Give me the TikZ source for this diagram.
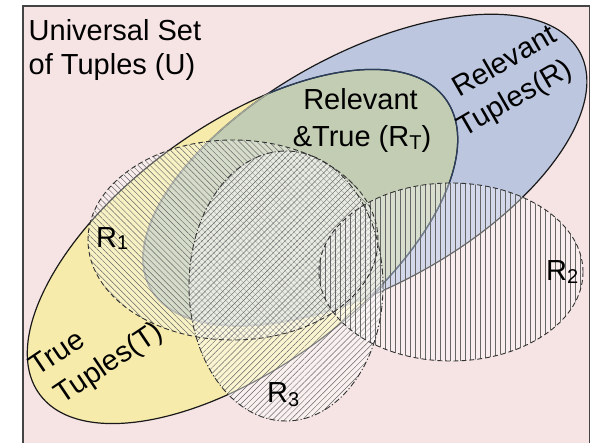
\documentclass[tikz,border=0pt]{standalone}
\usepackage{fontspec}
\setmainfont{Liberation Sans}
\usetikzlibrary{patterns.meta}
\definecolor{bgpink}{HTML}{F6E4E4}
\definecolor{yellowT}{HTML}{F6EBAA}
\definecolor{blueR}{HTML}{BCC6DF}
\definecolor{greenRT}{HTML}{C3CDB4}
\definecolor{navyline}{HTML}{2B3F5C}
\definecolor{hatchcol}{HTML}{666666}
\definecolor{framecol}{HTML}{444444}
\begin{document}
\begin{tikzpicture}[x=1pt,y=-1pt,
  Tpath/.style={rotate around={36:(cT)}, insert path={(cT) ellipse [x radius=251pt, y radius=121pt]}},
  Rpath/.style={rotate around={28.8:(cR)}, insert path={(cR) ellipse [x radius=245pt, y radius=116pt]}},
  Aone/.style={insert path={(c1) ellipse [x radius=145pt, y radius=100pt]}},
  Atwo/.style={insert path={(c2) ellipse [x radius=132pt, y radius=89pt]}},
  Athree/.style={insert path={(c3) ellipse [x radius=97pt, y radius=135pt]}},
  outline/.style={draw=black!90, line width=1.2pt},
  veil/.style={fill=white, fill opacity=#1},
  dashedge/.style={draw=black!80, line width=0.9pt, dash pattern=on 5pt off 3pt},
  dotedge/.style={draw=black!80, line width=0.9pt, dash pattern=on 6pt off 2.2pt on 1.2pt off 2.2pt},
  lbl/.style={inner sep=0pt, font=\fontsize{29}{35}\selectfont}]
\useasboundingbox (0,0) rectangle (591,443);
\clip (0,0) rectangle (591,443);
\coordinate (cT) at (242.5,246.5);
\coordinate (cR) at (365,170);
\coordinate (c1) at (233,240);
\coordinate (c2) at (451,272);
\coordinate (c3) at (286,286);
\fill[white] (0,0) rectangle (591,443);
\fill[bgpink] (23,6) rectangle (589.5,470);
% main sets
\fill[yellowT, Tpath];
\fill[blueR, Rpath];
\begin{scope}
  \clip[Tpath];
  \fill[greenRT, Rpath];
\end{scope}
\draw[outline, Tpath];
\draw[outline, Rpath];
\begin{scope}
  \clip[Rpath];
  \draw[navyline, line width=1.3pt, Tpath];
\end{scope}
\begin{scope}
  \clip[Tpath];
  \draw[line width=1.4pt, draw=greenRT!50!gray, Rpath];
\end{scope}
% labels under hatching
\node[lbl, anchor=base west, rotate=34] (t1) at (37.7,376.9) {True};
\node[lbl, anchor=base west, rotate=34] (t2) at (62.7,404.9) {Tuples(T)};
% result sets with hatching
\fill[veil=0.3, Aone];
\fill[pattern={Lines[angle=-45,distance=4.2pt,line width=0.45pt]}, pattern color=hatchcol, Aone];
\fill[veil=0.45, Athree];
\fill[pattern={Lines[angle=45,distance=4.2pt,line width=0.45pt]}, pattern color=hatchcol, Athree];
\fill[veil=0.35, Atwo];
\fill[pattern={Lines[angle=90,distance=5pt,line width=0.45pt]}, pattern color=hatchcol, Atwo];
\draw[dashedge, Aone];
\draw[dashedge, Atwo];
\draw[dotedge, Athree];
% frame
\draw[framecol, line width=1.3pt] (23,6) rectangle (589.5,470);
% texts
\node[lbl, anchor=base west] (u1) at (28.5,40.5) {Universal Set};
\node[lbl, anchor=base west] (u2) at (28.5,74.5) {of Tuples (U)};
\node[lbl, anchor=base] (rt1) at (360.5,110) {Relevant};
\node[lbl, anchor=base] (rt2) at (362,147) {\&True (R\raisebox{-3pt}{\fontsize{20}{20}\selectfont T})};
\node[lbl, anchor=base west, rotate=30] (r1) at (459,98) {Relevant};
\node[lbl, anchor=base west, rotate=30] (r2) at (464.4,137.4) {Tuples(R)};
\node[lbl, anchor=base west] (l1) at (96,248) {R\raisebox{-2pt}{\fontsize{20}{20}\selectfont 1}};
\node[lbl, anchor=base west] (l2) at (546,280) {R\raisebox{-3pt}{\fontsize{20}{20}\selectfont 2}};
\node[lbl, anchor=base west] (l3) at (267,402) {R\raisebox{-4pt}{\fontsize{20}{20}\selectfont 3}};
\end{tikzpicture}
\end{document}
